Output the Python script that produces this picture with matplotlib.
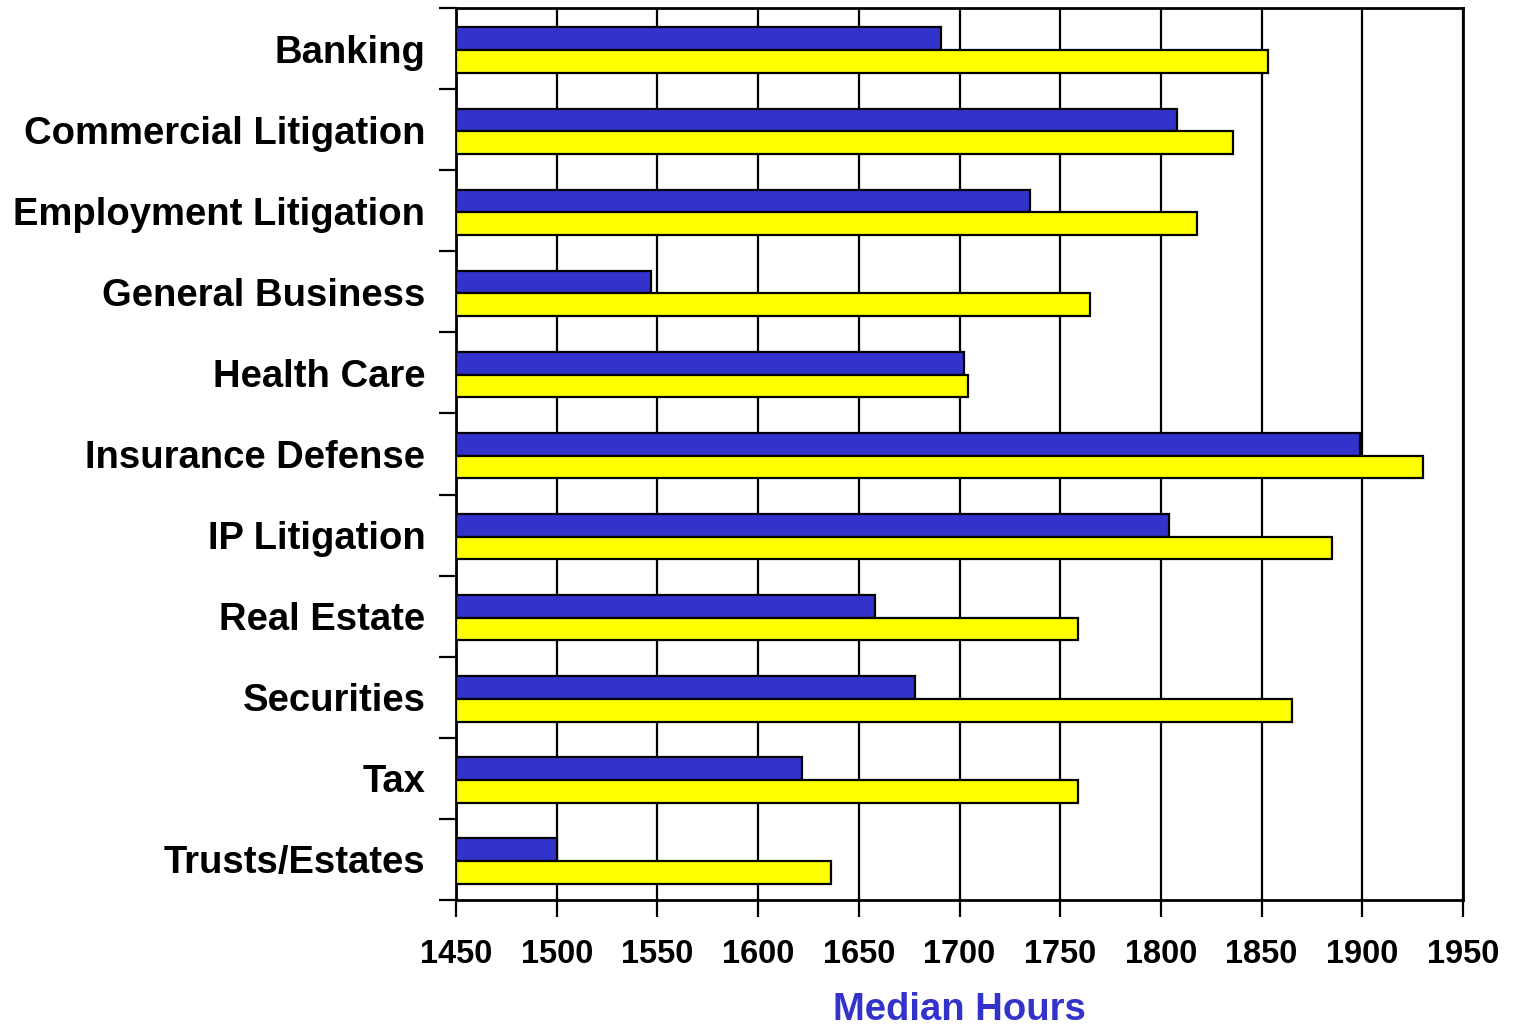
import numpy as np
import matplotlib
matplotlib.use("Agg")
import matplotlib.pyplot as plt

categories = ["Banking", "Commercial Litigation", "Employment Litigation",
              "General Business", "Health Care", "Insurance Defense",
              "IP Litigation", "Real Estate", "Securities", "Tax",
              "Trusts/Estates"]
blue_vals = [1691, 1808, 1735, 1547, 1702, 1899, 1804, 1658, 1678, 1622, 1500]
yellow_vals = [1853, 1836, 1818, 1765, 1704, 1930, 1885, 1759, 1865, 1759, 1636]
x_ticks = [1450, 1500, 1550, 1600, 1650, 1700, 1750, 1800, 1850, 1900, 1950]


def main():
    plt.rcParams['font.family'] = ['Liberation Sans', 'DejaVu Sans']
    fig = plt.figure(figsize=(15.13, 10.29), dpi=100)
    ax = fig.add_axes([0.3014, 0.1254, 0.6656, 0.8668])

    n = len(categories)
    y = np.arange(n) + 0.02
    h = 0.28
    base = 1450
    ax.barh(y - h / 2, np.array(blue_vals) - base, left=base, height=h,
            color="#3333CC", edgecolor="black", linewidth=1.6, zorder=3)
    ax.barh(y + h / 2, np.array(yellow_vals) - base, left=base, height=h,
            color="#FFFF00", edgecolor="black", linewidth=1.6, zorder=3)

    ax.set_xlim(1450, 1950)
    ax.set_ylim(n - 0.5, -0.5)
    ax.set_xticks(x_ticks)
    ax.set_xticklabels([str(t) for t in x_ticks], fontsize=23.5, fontweight="bold")
    ax.xaxis.grid(True, color="black", linewidth=1.6, zorder=0)
    ax.set_axisbelow(True)

    # category labels between boundary ticks
    ax.set_yticks(np.arange(n + 1) - 0.5)
    ax.set_yticklabels([])
    ax.set_yticks(np.arange(n), minor=True)
    ax.set_yticklabels(categories, minor=True, fontsize=27.5, fontweight="bold")
    ax.tick_params(axis="y", which="minor", length=0, pad=22)
    ax.tick_params(axis="y", which="major", length=12, width=1.6, direction="out")
    ax.tick_params(axis="x", length=12, width=1.6, direction="out", pad=16)

    for s in ax.spines.values():
        s.set_linewidth(2)

    ax.set_xlabel("Median Hours", fontsize=27.5, fontweight="bold",
                  color="#3333CC", labelpad=16)

    fig.savefig("out.png", dpi=100)


if __name__ == "__main__":
    main()
